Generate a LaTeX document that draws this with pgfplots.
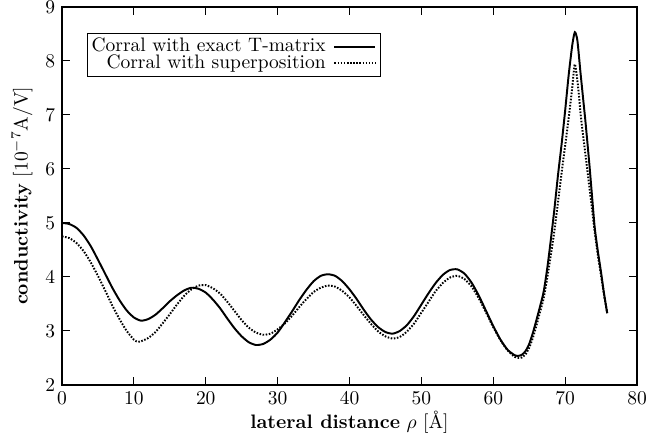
\documentclass[border=0pt]{standalone}
\usepackage{pgfplots}
\pgfplotsset{compat=1.18}
\pgfplotstableread{
x y
0 5.00
1 4.98
2 4.91
3 4.77
4 4.57
5 4.32
6 4.06
7 3.80
8 3.57
9 3.38
10 3.25
11 3.19
12 3.22
13 3.30
14 3.42
15 3.55
16 3.66
17 3.75
18 3.80
19 3.78
20 3.71
21 3.58
22 3.42
23 3.23
24 3.05
25 2.90
26 2.79
27 2.74
28 2.76
29 2.84
30 2.97
31 3.16
32 3.36
33 3.57
34 3.76
35 3.92
36 4.02
37 4.05
38 4.02
39 3.92
40 3.77
41 3.59
42 3.39
43 3.21
44 3.07
45 2.98
46 2.95
47 3.00
48 3.11
49 3.28
50 3.49
51 3.70
52 3.89
53 4.04
54 4.13
55 4.14
56 4.06
57 3.89
58 3.65
59 3.37
60 3.09
61 2.84
62 2.65
63 2.55
63.5 2.54
64 2.56
64.5 2.63
65 2.76
65.5 2.96
66 3.20
66.5 3.45
67 3.72
67.5 4.15
68 4.68
68.5 5.25
69 5.88
69.5 6.45
70 7.08
70.5 7.75
71 8.30
71.35 8.53
71.7 8.38
72.1 7.83
72.5 7.30
72.8 6.91
73.1 6.48
73.4 6.04
73.8 5.40
74.1 4.93
74.5 4.52
75 4.08
75.4 3.70
75.85 3.33
}\exact
\pgfplotstableread{
x y
0 4.75
1 4.72
2 4.63
3 4.48
4 4.27
5 4.02
6 3.75
7 3.47
8 3.22
9 3.00
10 2.84
10.5 2.80
11 2.81
12 2.87
13 2.98
14 3.14
15 3.31
16 3.49
17 3.65
18 3.77
19 3.84
19.65 3.85
20 3.85
21 3.79
22 3.69
23 3.54
24 3.37
25 3.20
26 3.06
27 2.97
28 2.93
29 2.95
30 3.03
31 3.14
32 3.28
33 3.44
34 3.59
35 3.72
36 3.80
37 3.84
38 3.82
39 3.74
40 3.62
41 3.46
42 3.29
43 3.13
44 2.99
45 2.90
46 2.86
47 2.89
48 2.99
49 3.14
50 3.34
51 3.54
52 3.74
53 3.89
54 3.99
55 4.02
56 3.96
57 3.82
58 3.60
59 3.34
60 3.07
61 2.83
62 2.64
63 2.52
63.7 2.50
64 2.51
64.5 2.57
65 2.69
65.5 2.87
66 3.10
66.5 3.35
67 3.60
67.5 3.98
68 4.40
68.5 4.85
69 5.38
69.5 5.92
70 6.43
70.5 6.95
71 7.52
71.35 7.94
71.8 7.52
72.2 6.95
72.7 6.40
73.2 5.85
73.7 5.30
74.1 4.85
74.5 4.45
75 4.02
75.4 3.68
75.85 3.33
}\superpos
\begin{document}
\begin{tikzpicture}
\useasboundingbox (-31.8pt,-26.2pt) rectangle (299.6pt,197.5pt);
\begin{axis}[
  scale only axis,
  width=295pt, height=194pt,
  xmin=0, xmax=80, ymin=2, ymax=9,
  xtick={0,10,...,80}, ytick={2,3,...,9},
  minor tick num=0,
  tick align=inside,
  axis line style={line width=0.8pt},
  every tick/.style={black, line width=0.5pt},
  xlabel={\textbf{lateral distance} $\rho$ [\AA]},
  ylabel={\textbf{conductivity} [$10^{-7}$A/V]},
  xlabel style={at={(axis description cs:0.5,0)}, anchor=base, yshift=-22.3pt},
  ylabel style={at={(axis description cs:-0.0695,0.5)}, anchor=center},
  legend plot pos=right,
  legend cell align=right,
  legend style={at={(axis cs:3.5,8.52)}, anchor=north west, draw=black,
    line width=0.6pt, inner xsep=2pt, inner ysep=2.5pt, row sep=0pt,
    column sep=4pt, nodes={inner sep=0pt}},
  legend image code/.code={\draw[#1] (0pt,0pt) -- (21pt,0pt);},
]
\addplot[black, line width=1pt, smooth, tension=0.4] table {\exact};
\addlegendentry{Corral with exact T-matrix}
\addplot[black, line width=1pt, dash pattern=on 0.8pt off 0.8pt, smooth, tension=0.4] table {\superpos};
\addlegendentry{Corral with superposition}
\end{axis}
\end{tikzpicture}
\end{document}
